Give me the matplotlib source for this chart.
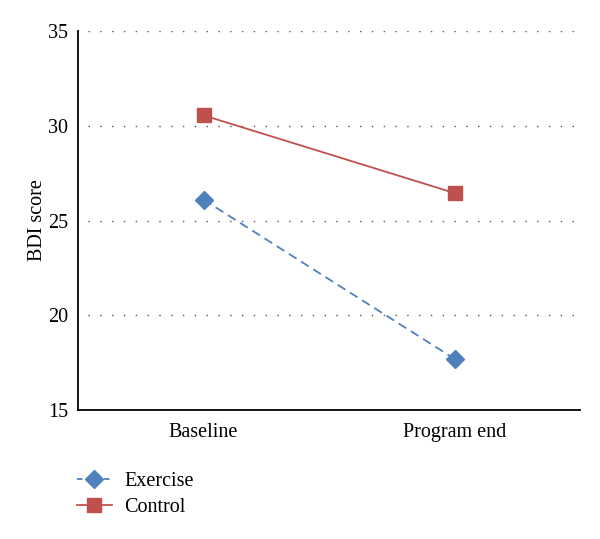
import matplotlib
matplotlib.use("Agg")
import matplotlib.pyplot as plt
from matplotlib.lines import Line2D

categories = ["Baseline", "Program end"]
exercise = [26.1, 17.7]
control = [30.55, 26.45]
yticks = [15, 20, 25, 30, 35]

plt.rcParams['font.family'] = ['Liberation Serif', 'DejaVu Serif']

fig = plt.figure(figsize=(6, 5.39), dpi=100)
ax = fig.add_axes([0.13, 0.2393, 0.8367, 0.7032])

x = list(range(len(categories)))
ax.plot(x, exercise, color='#4F81BD', linestyle=(0, (5, 3)), linewidth=1.3,
        marker='D', markersize=9.5, markerfacecolor='#4F81BD', markeredgecolor='#4F81BD',
        label='Exercise')
ax.plot(x, control, color='#C0504D', linestyle='-', linewidth=1.3,
        marker='s', markersize=10, markerfacecolor='#C0504D', markeredgecolor='#C0504D',
        label='Control')

ax.set_xlim(-0.5, 1.5)
ax.set_ylim(15, 35)
ax.set_yticks(yticks)
ax.set_xticks(x)
ax.set_xticklabels(categories)
for y in yticks[1:]:
    ax.axhline(y, xmin=0.02, color='#555555', linestyle=(0, (1, 7.5)), linewidth=1.0, zorder=0)

ax.spines['top'].set_visible(False)
ax.spines['right'].set_visible(False)
ax.spines['left'].set_linewidth(1.3)
ax.spines['bottom'].set_linewidth(1.3)
ax.tick_params(axis='both', length=0, labelsize=14.5)
ax.tick_params(axis='x', pad=9)
ax.tick_params(axis='y', pad=7)
ax.set_ylabel('BDI score', fontsize=14.5, labelpad=1)

handles = [
    Line2D([], [], color='#4F81BD', linestyle=(0, (3, 2)), linewidth=1.3, marker='D',
           markersize=9.5, markerfacecolor='#4F81BD', markeredgecolor='#4F81BD'),
    Line2D([], [], color='#C0504D', linestyle='-', linewidth=1.3, marker='s',
           markersize=10, markerfacecolor='#C0504D', markeredgecolor='#C0504D'),
]
fig.legend(handles, ['Exercise', 'Control'], loc='upper left',
           bbox_to_anchor=(0.128, 0.125), frameon=False, fontsize=14.5,
           handlelength=1.75, handletextpad=0.6, labelspacing=0.35, borderaxespad=0,
           borderpad=0)

fig.savefig('out.png', dpi=100)
